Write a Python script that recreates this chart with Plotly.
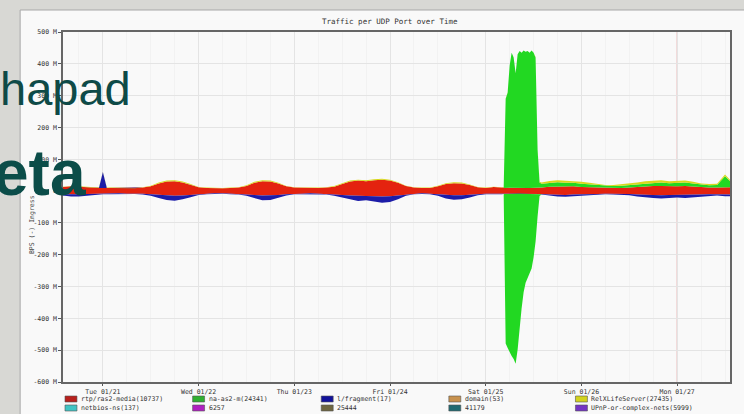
import plotly.graph_objects as go
import pandas as pd

# ---------------- data (values in M bits/s) ----------------
START = "2014-01-20 14:00"
base_time = pd.date_range(START, periods=85, freq="2h")

red_pos = [13, 15, 14, 12, 10, 10, 10, 9, 10, 9, 11, 15, 24, 30, 31, 27, 20, 12, 10, 9,
           9, 10, 11, 16, 26, 31, 30, 24, 15, 11, 10, 10, 10, 11, 14, 22, 30, 33, 31, 34,
           36, 33, 26, 16, 11, 10, 10, 15, 22, 25, 24, 19, 12, 10, 13, 11, 10, 10, 10, 10,
           11, 14, 15, 14, 15, 13, 12, 11, 10, 10, 10, 11, 13, 15, 16, 16, 15, 15, 16, 14,
           12, 11, 11, 12, 12]
red_neg = [-10, -11, -10, -9, -8, -8, -8, -7, -8, -7, -8, -10, -12, -14, -15, -14, -12, -9, -8, -7,
           -7, -8, -8, -10, -12, -14, -14, -12, -10, -8, -8, -7, -8, -8, -10, -12, -14, -15, -15, -16,
           -17, -16, -14, -10, -8, -7, -8, -10, -12, -13, -13, -11, -9, -8, -8, -8, -7, -7, -7, -7,
           -9, -11, -12, -12, -11, -11, -10, -9, -8, -8, -8, -9, -11, -12, -13, -13, -12, -12, -13, -12,
           -11, -10, -10, -11, -11]
blue_neg = [-4, -6, -7, -5, -3, -2, -2, -2, -2, -2, -3, -5, -10, -14, -15, -12, -7, -3, -2, -2,
            -1, -2, -3, -5, -11, -15, -14, -9, -4, -2, -2, -2, -2, -3, -5, -9, -13, -16, -14, -18,
            -20, -18, -12, -5, -2, -2, -2, -5, -11, -14, -13, -9, -4, -2, -3, -2, -1, -1, -1, -1,
            -2, -4, -5, -6, -5, -5, -4, -3, -2, -3, -3, -4, -6, -8, -9, -10, -9, -8, -9, -8,
            -6, -4, -4, -5, -5]
yellow_pos = [1, 1, 1, 1, 1, 1, 1, 1, 1, 1, 1, 2, 3, 3, 3, 3, 2, 1, 1, 1,
              1, 1, 1, 2, 3, 3, 3, 2, 1, 1, 1, 1, 1, 1, 2, 3, 3, 3, 3, 3,
              3, 3, 2, 1, 1, 1, 1, 2, 3, 3, 3, 2, 1, 1, 1, 1, 0, 0, 0, 0,
              4, 6, 6, 7, 6, 6, 5, 4, 3, 3, 4, 4, 5, 6, 6, 7, 6, 6, 6, 5,
              4, 4, 4, 5, 4]

# blue positive burst near Tue 00:00
blue_pos_time = ["2014-01-20 14:00", "2014-01-20 23:00", "2014-01-21 00:00",
                 "2014-01-21 01:00", "2014-01-27 14:00"]
blue_pos = [0, 0, 50, 0, 0]

# green (na-as2-m) : burst on Saturday, then small egress layer
green_spike_time = pd.date_range("2014-01-25 04:00", "2014-01-25 13:30", freq="30min")
green_spike_pos = [0, 0, 280, 300, 385, 425, 410, 360, 420, 430,
                   425, 432, 428, 430, 425, 432, 425, 410, 120, 16]
green_spike_neg = [0, 0, -470, -485, -500, -510, -520, -535, -490, -420,
                   -360, -310, -280, -265, -250, -235, -200, -150, -70, -5]
green_after_pos = [12, 12, 13, 12, 11, 10, 9, 8, 6, 6, 7, 8, 9, 10, 11, 11, 10, 10, 11, 10,
                   8, 7, 8, 35, 10]
green_after_neg = [0] * 25

green_time = list(green_spike_time) + list(base_time[60:])
green_pos = green_spike_pos + green_after_pos
green_neg = green_spike_neg + green_after_neg

y_tick_vals = [500, 400, 300, 200, 100, 0, -100, -200, -300, -400, -500, -600]
y_tick_text = ["500 M", "400 M", "300 M", "200 M", "100 M", "0", "-100 M", "-200 M",
               "-300 M", "-400 M", "-500 M", "-600 M"]
x_tick_vals = pd.date_range("2014-01-21", "2014-01-27", freq="D")
x_tick_text = ["Tue 01/21", "Wed 01/22", "Thu 01/23", "Fri 01/24", "Sat 01/25",
               "Sun 01/26", "Mon 01/27"]

legend_names = ["rtp/ras2-media(10737)", "na-as2-m(24341)", "l/fragment(17)", "domain(53)",
                "RelXLifeServer(27435)", "netbios-ns(137)", "6257", "25444", "41179",
                "UPnP-or-complex-nets(5999)"]
legend_colors = ["#b8201c", "#30b030", "#12129a", "#c8924e", "#d2d21e",
                 "#40c4c4", "#b020c0", "#6e6640", "#206a72", "#7434c4"]

C_RED = "#e4230f"
C_BLUE = "#1c1ca8"
C_GREEN = "#22d822"
C_YELLOW = "#d8d81c"

# ---------------- figure ----------------
fig = go.Figure()

def area(x, y, color, group, first=False):
    kw = dict(x=x, y=y, mode="lines", stackgroup=group, line=dict(width=0, color=color),
              fillcolor=color, showlegend=False, hoverinfo="skip")
    if first:
        kw["stackgaps"] = "interpolate"
    fig.add_trace(go.Scatter(**kw))

# egress (positive) stack
area(base_time, red_pos, C_RED, "pos", first=True)
area(blue_pos_time, blue_pos, C_BLUE, "pos")
area(green_time, green_pos, C_GREEN, "pos")
area(base_time, yellow_pos, C_YELLOW, "pos")
# ingress (negative) stack
area(base_time, red_neg, C_RED, "neg", first=True)
area(base_time, blue_neg, C_BLUE, "neg")
area(green_time, green_neg, C_GREEN, "neg")

PL, PR, PT, PB = 63, 732, 32, 382
W, H = 744, 414
def px(x):
    return (x - PL) / (PR - PL)
def py(y):
    return (PB - y) / (PB - PT)

shapes = [
    # rrdtool canvas
    dict(type="rect", xref="paper", yref="paper", x0=px(20), x1=px(760), y0=py(430), y1=py(10),
         fillcolor="#f9f9f9", line=dict(color="#a8a8a8", width=1), layer="below"),
    # red vertical rule
    dict(type="line", xref="x", yref="paper", x0="2014-01-27", x1="2014-01-27", y0=0, y1=1,
         line=dict(color="#e4a0a0", width=1), layer="below"),
]
annotations = []
cols = [65, 193, 322, 450, 577]
rows = [399, 408]
for k, (name, col) in enumerate(zip(legend_names, legend_colors)):
    cx = cols[k % 5]
    cy = rows[k // 5]
    shapes.append(dict(type="rect", xref="paper", yref="paper", x0=px(cx), x1=px(cx + 12),
                       y0=py(cy + 3), y1=py(cy - 3), fillcolor=col,
                       line=dict(color="#555555", width=0.6)))
    annotations.append(dict(xref="paper", yref="paper", x=px(cx + 14), y=py(cy), text=name,
                            showarrow=False, xanchor="left", yanchor="middle",
                            font=dict(family="DejaVu Sans Mono", size=6.5, color="#333333")))

# y axis title
annotations.append(dict(xref="paper", yref="paper", x=px(26), y=py(225), text="BPS (-) Ingress",
                        textangle=-90, showarrow=False,
                        font=dict(family="DejaVu Sans Mono", size=6.5, color="#444444")))
# chart title
annotations.append(dict(xref="paper", yref="paper", x=px(391), y=py(15),
                        text="Traffic per UDP Port over Time", showarrow=False,
                        font=dict(family="DejaVu Sans Mono", size=7.5, color="#333333")))
# slide text overlapping the image
annotations.append(dict(xref="paper", yref="paper", x=px(-2), y=py(88), text="hapad",
                        showarrow=False, xanchor="left", yanchor="middle",
                        font=dict(family="Liberation Sans", size=47, color="#0e4a47")))
annotations.append(dict(xref="paper", yref="paper", x=px(-9), y=py(173), text="<b>eta</b>",
                        showarrow=False, xanchor="left", yanchor="middle",
                        font=dict(family="Liberation Sans", size=64, color="#0b4d49")))

fig.update_layout(
    width=W, height=H, margin=dict(l=PL, r=W - PR, t=PT, b=H - PB),
    paper_bgcolor="#d8d8d4", plot_bgcolor="#ffffff",
    shapes=shapes, annotations=annotations, showlegend=False,
    xaxis=dict(type="date", range=["2014-01-20 14:00", "2014-01-27 13:15"],
               tickvals=x_tick_vals, ticktext=x_tick_text, ticks="outside", ticklen=2,
               tickcolor="#555", showline=True, linecolor="#666", linewidth=1.5, mirror=True,
               showgrid=True, gridcolor="#e4e4e4", gridwidth=1, zeroline=False,
               minor=dict(dtick=6 * 3600000, tick0="2014-01-21", showgrid=True,
                          gridcolor="#f2f2f2", gridwidth=1),
               tickfont=dict(family="DejaVu Sans Mono", size=6.5, color="#333")),
    yaxis=dict(range=[-600, 500], tickvals=y_tick_vals, ticktext=y_tick_text,
               ticks="outside", ticklen=3, tickcolor="#555", showline=True, linecolor="#666",
               linewidth=1.5, mirror=True, showgrid=True, gridcolor="#e4e4e4", zeroline=False,
               tickfont=dict(family="DejaVu Sans Mono", size=6.5, color="#333")),
)

fig.write_html("out.html", config={"displayModeBar": False},
               post_script="document.body.style.margin='0px';"
               "document.body.style.overflow='hidden';")
